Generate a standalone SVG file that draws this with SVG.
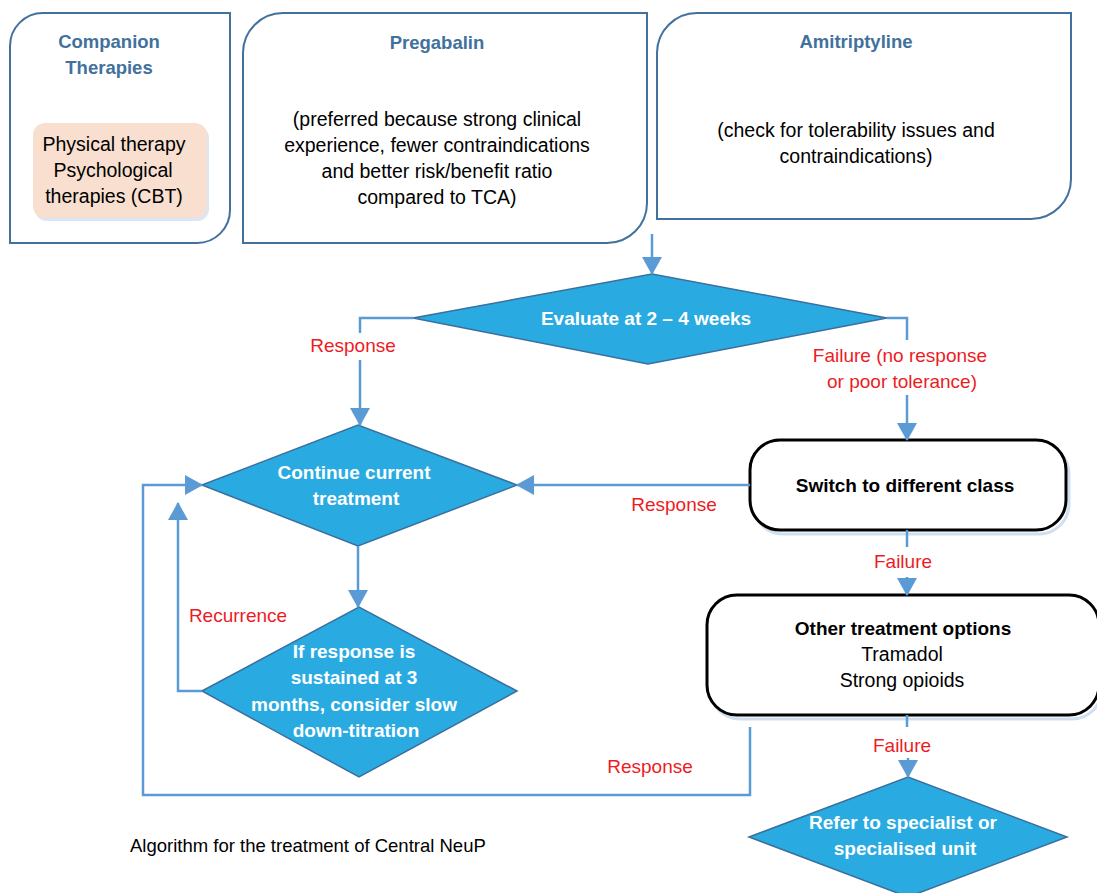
<svg xmlns="http://www.w3.org/2000/svg" width="1097" height="893" viewBox="0 0 1097 893">
<style>
  text { font-family: "Liberation Sans", Arial, sans-serif; }
  .frame { fill: #ffffff; stroke: #41719c; stroke-width: 2; }
  .head { font-size: 18.5px; font-weight: bold; fill: #41719c; text-anchor: middle; }
  .body { font-size: 19.5px; fill: #000000; text-anchor: middle; }
  .dia { fill: #29abe2; stroke: #3a6f9e; stroke-width: 1.5; }
  .dtxt { font-size: 19px; font-weight: bold; fill: #ffffff; text-anchor: middle; }
  .box { fill: #ffffff; stroke: #000000; stroke-width: 3; }
  .shadow { fill: none; stroke: #cfdff0; stroke-width: 3; }
  .btxt { font-size: 19px; font-weight: bold; fill: #000000; text-anchor: middle; }
  .lbl { font-size: 19px; fill: #ed1c24; text-anchor: middle; }
  .conn { fill: none; stroke: #5b9bd5; stroke-width: 2.5; }
</style>
<defs>
  <marker id="arr" markerUnits="userSpaceOnUse" viewBox="0 0 18 20" markerWidth="18" markerHeight="20" refX="17" refY="10" orient="auto">
    <path d="M0,0 L18,10 L0,20 Z" fill="#5b9bd5"/>
  </marker>
</defs>
<rect x="0" y="0" width="1097" height="893" fill="#ffffff"/>

<g id="companion">
  <path class="frame" d="M10,243 V46 A33,33 0 0 1 43,13 H230 V210 A33,33 0 0 1 197,243 Z"/>
  <text class="head" x="109" y="48">Companion</text>
  <text class="head" x="109" y="74">Therapies</text>
  <rect x="35" y="126" width="174" height="95" rx="12" fill="#dae6f3"/>
  <rect x="33" y="123" width="174" height="95" rx="12" fill="#f9dfcf"/>
  <text class="body" x="114" y="151">Physical therapy</text>
  <text class="body" x="113" y="177">Psychological</text>
  <text class="body" x="114" y="203">therapies (CBT)</text>
</g>

<g id="pregabalin">
  <path class="frame" d="M243,243 V53 A40,40 0 0 1 283,13 H647 V203 A40,40 0 0 1 607,243 Z"/>
  <text class="head" x="437" y="49">Pregabalin</text>
  <text class="body" x="437" y="125.5">(preferred because strong clinical</text>
  <text class="body" x="437" y="151.5">experience, fewer contraindications</text>
  <text class="body" x="437" y="177.5">and better risk/benefit ratio</text>
  <text class="body" x="437" y="203.5">compared to TCA)</text>
</g>

<g id="amitriptyline">
  <path class="frame" d="M657,219 V53 A40,40 0 0 1 697,13 H1071 V179 A40,40 0 0 1 1031,219 Z"/>
  <text class="head" x="856" y="48">Amitriptyline</text>
  <text class="body" x="856" y="137">(check for tolerability issues and</text>
  <text class="body" x="856" y="163">contraindications)</text>
</g>

<g id="evaluate">
  <polygon class="dia" points="413,318 652,274 887,318 648,364"/>
  <text class="dtxt" x="646" y="325">Evaluate at 2 – 4 weeks</text>
</g>

<g id="continue">
  <polygon class="dia" points="202,485 358,425 517,485 358,546"/>
  <text class="dtxt" x="354" y="479">Continue current</text>
  <text class="dtxt" x="356" y="505">treatment</text>
</g>

<g id="sustained">
  <polygon class="dia" points="202,691 359,607 517,691 359,777"/>
  <text class="dtxt" x="354" y="658">If response is</text>
  <text class="dtxt" x="354" y="684">sustained at 3</text>
  <text class="dtxt" x="354" y="711">months, consider slow</text>
  <text class="dtxt" x="356" y="737">down-titration</text>
</g>

<g id="switch">
  <rect class="shadow" x="753" y="444" width="316" height="90" rx="30"/>
  <rect class="box" x="750" y="440" width="316" height="90" rx="30"/>
  <text class="btxt" x="905" y="492">Switch to different class</text>
</g>

<g id="other">
  <rect class="shadow" x="710" y="599" width="392" height="120" rx="30"/>
  <rect class="box" x="707" y="595" width="392" height="120" rx="30"/>
  <text class="btxt" x="903" y="635">Other treatment options</text>
  <text class="body" x="902" y="661">Tramadol</text>
  <text class="body" x="902" y="687">Strong opioids</text>
</g>

<g id="refer">
  <polygon class="dia" points="749,837 908,777 1067,837 908,897"/>
  <text class="dtxt" x="903" y="829">Refer to specialist or</text>
  <text class="dtxt" x="905" y="855">specialised unit</text>
</g>

<g id="connectors">
  <path class="conn" d="M652,234 V274" marker-end="url(#arr)"/>
  <path class="conn" d="M413,318 H360 V333"/>
  <path class="conn" d="M360,360 V425" marker-end="url(#arr)"/>
  <path class="conn" d="M887,318 H907 V340"/>
  <path class="conn" d="M907,395 V440" marker-end="url(#arr)"/>
  <path class="conn" d="M750,485 H517" marker-end="url(#arr)"/>
  <path class="conn" d="M358,546 V607" marker-end="url(#arr)"/>
  <path class="conn" d="M202,691 H178 V503" marker-end="url(#arr)"/>
  <path class="conn" d="M750,727 V795 H143 V485 H202" marker-end="url(#arr)"/>
  <path class="conn" d="M907,530 V547"/>
  <path class="conn" d="M907,577 V595" marker-end="url(#arr)"/>
  <path class="conn" d="M907,715 V727"/>
  <path class="conn" d="M908,758 V777" marker-end="url(#arr)"/>
</g>

<g id="labels">
  <text class="lbl" x="353" y="352">Response</text>
  <text class="lbl" x="900" y="362">Failure (no response</text>
  <text class="lbl" x="902" y="388">or poor tolerance)</text>
  <text class="lbl" x="674" y="511">Response</text>
  <text class="lbl" x="238" y="622">Recurrence</text>
  <text class="lbl" x="903" y="568">Failure</text>
  <text class="lbl" x="902" y="752">Failure</text>
  <text class="lbl" x="650" y="773">Response</text>
</g>

<text id="caption" x="130" y="852" font-size="18.5" fill="#000000">Algorithm for the treatment of Central NeuP</text>
</svg>
